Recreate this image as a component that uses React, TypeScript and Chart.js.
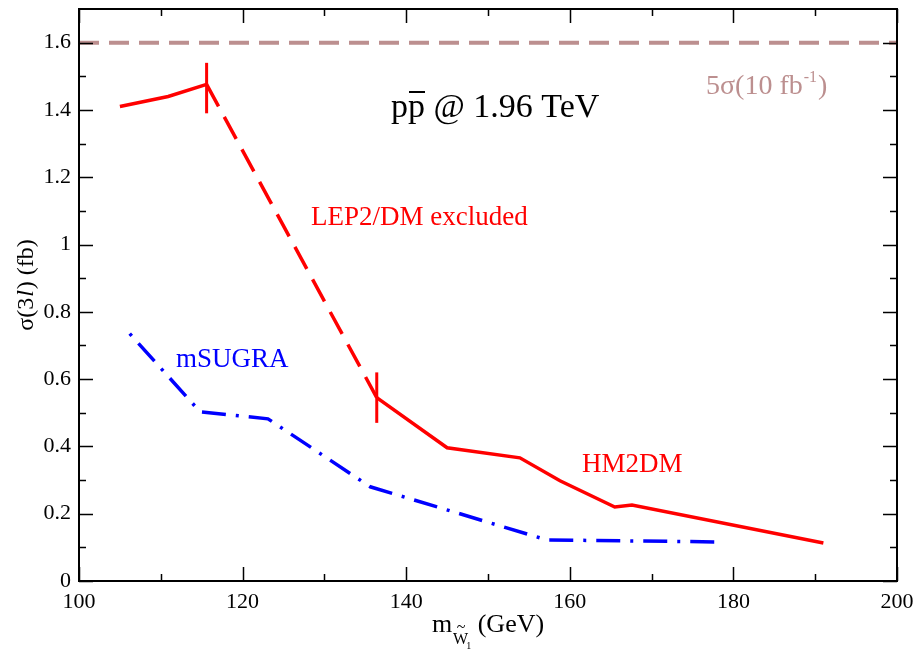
import React, { useEffect, useRef } from 'react';
import { Chart, registerables } from 'chart.js';

Chart.register(...registerables);

// Axis ticks
const xMajorTicks = [100, 120, 140, 160, 180, 200];
const xMinorTicks = [110, 130, 150, 170, 190];
const yMajorTicks = [0, 0.2, 0.4, 0.6, 0.8, 1, 1.2, 1.4, 1.6];
const yMinorTicks = [0.1, 0.3, 0.5, 0.7, 0.9, 1.1, 1.3, 1.5];

// 5 sigma discovery reach with 10 fb^-1
const discoveryMass = [100, 200];
const discoverySigma = [1.6, 1.6];

// HM2DM below the LEP2/DM boundary
const hm2dmLowMass = [105, 110.9, 115.6];
const hm2dmLowSigma = [1.41, 1.44, 1.476];

// LEP2/DM excluded stretch
const excludedMass = [115.6, 136.4];
const excludedSigma = [1.476, 0.545];

// HM2DM allowed region
const hm2dmMass = [136.4, 145, 153.9, 158.8, 165.5, 167.6, 191];
const hm2dmSigma = [0.545, 0.396, 0.366, 0.298, 0.22, 0.226, 0.113];

// Boundary markers of the excluded stretch
const boundaryMass = [115.6, 136.4];
const boundaryLow = [1.39, 0.47];
const boundaryHigh = [1.54, 0.62];

// mSUGRA
const msugraMass = [106.2, 114.8, 123.1, 135.6, 157.2, 178.6];
const msugraSigma = [0.735, 0.503, 0.482, 0.28, 0.122, 0.116];

const SERIF = '"Liberation Serif", "Times New Roman", serif';
const RED = '#ff0000';
const BLUE = '#0000ff';
const ROSY = '#bc8f8f';

const pts = (xs: number[], ys: number[]) => xs.map((x, i) => ({ x, y: ys[i] }));

const lineSet = (data: { x: number; y: number }[], color: string, width: number, dash: number[] = []) => ({
  data,
  borderColor: color,
  backgroundColor: color,
  borderWidth: width,
  borderDash: dash,
  borderCapStyle: 'butt' as const,
  borderJoinStyle: 'miter' as const,
  pointRadius: 0,
  pointHoverRadius: 0,
  tension: 0,
  fill: false,
});

const framePlugin = {
  id: 'frameAndText',
  afterDraw(chart: any) {
    const { ctx, chartArea: a, scales } = chart;
    const xs = scales.x;
    const ys = scales.y;
    ctx.save();

    // frame
    ctx.strokeStyle = '#000';
    ctx.lineWidth = 2;
    ctx.strokeRect(a.left, a.top, a.right - a.left, a.bottom - a.top);

    // inward ticks on all four sides
    ctx.lineWidth = 1.5;
    const major = 14;
    const minor = 7;
    const xTick = (v: number, len: number) => {
      const p = Math.round(xs.getPixelForValue(v)) + 0.5;
      ctx.beginPath();
      ctx.moveTo(p, a.bottom);
      ctx.lineTo(p, a.bottom - len);
      ctx.moveTo(p, a.top);
      ctx.lineTo(p, a.top + len);
      ctx.stroke();
    };
    const yTick = (v: number, len: number) => {
      const p = Math.round(ys.getPixelForValue(v)) + 0.5;
      ctx.beginPath();
      ctx.moveTo(a.left, p);
      ctx.lineTo(a.left + len, p);
      ctx.moveTo(a.right, p);
      ctx.lineTo(a.right - len, p);
      ctx.stroke();
    };
    xMajorTicks.forEach((v) => xTick(v, major));
    xMinorTicks.forEach((v) => xTick(v, minor));
    yMajorTicks.forEach((v) => yTick(v, major));
    yMinorTicks.forEach((v) => yTick(v, minor));

    ctx.textBaseline = 'alphabetic';
    ctx.textAlign = 'left';

    // collision energy
    ctx.fillStyle = '#000';
    ctx.font = `34px ${SERIF}`;
    const px0 = 391;
    const pw = ctx.measureText('p').width;
    ctx.fillText('pp @ 1.96 TeV', px0, 117);
    ctx.fillRect(px0 + pw + 1, 91, pw - 1, 2);

    // curve labels
    ctx.fillStyle = RED;
    ctx.font = `27px ${SERIF}`;
    ctx.fillText('LEP2/DM excluded', 311, 225);
    ctx.fillText('HM2DM', 582, 472);
    ctx.fillStyle = BLUE;
    ctx.fillText('mSUGRA', 176, 367);

    // discovery label
    ctx.fillStyle = ROSY;
    ctx.font = `28px ${SERIF}`;
    let x = 706;
    ctx.fillText('5σ(10 fb', x, 94);
    x += ctx.measureText('5σ(10 fb').width;
    ctx.font = `16px ${SERIF}`;
    ctx.fillText('-1', x + 1, 82);
    x += ctx.measureText('-1').width + 2;
    ctx.font = `28px ${SERIF}`;
    ctx.fillText(')', x, 94);

    // y-axis title
    ctx.fillStyle = '#000';
    ctx.save();
    ctx.translate(33, 285);
    ctx.rotate(-Math.PI / 2);
    const fUp = `24px ${SERIF}`;
    const fIt = `italic 24px ${SERIF}`;
    ctx.font = fUp;
    const w1 = ctx.measureText('σ(3').width;
    const w3 = ctx.measureText(') (fb)').width;
    ctx.font = fIt;
    const w2 = ctx.measureText('l').width + 2;
    let t = -(w1 + w2 + w3) / 2;
    ctx.font = fUp;
    ctx.fillText('σ(3', t, 0);
    t += w1;
    ctx.font = fIt;
    ctx.fillText('l', t + 1, 0);
    t += w2;
    ctx.font = fUp;
    ctx.fillText(') (fb)', t, 0);
    ctx.restore();

    // x-axis title
    ctx.font = `26px ${SERIF}`;
    const wm = ctx.measureText('m').width;
    const wg = ctx.measureText(' (GeV)').width;
    ctx.font = `16px ${SERIF}`;
    const ww = ctx.measureText('W').width;
    const total = wm + ww + 4 + wg;
    let xx = (a.left + a.right) / 2 - total / 2;
    ctx.font = `26px ${SERIF}`;
    ctx.fillText('m', xx, 632);
    xx += wm + 1;
    ctx.font = `16px ${SERIF}`;
    ctx.fillText('W', xx, 644);
    ctx.fillText('~', xx + ww / 2 - 4, 632);
    ctx.font = `10px ${SERIF}`;
    ctx.fillText('1', xx + ww - 2, 649);
    xx += ww + 3;
    ctx.font = `26px ${SERIF}`;
    ctx.fillText(' (GeV)', xx, 632);

    ctx.restore();
  },
};

export default function App() {
  const ref = useRef<HTMLCanvasElement | null>(null);

  useEffect(() => {
    if (!ref.current) return;
    const chart = new Chart(ref.current, {
      type: 'line',
      data: {
        datasets: [
          lineSet(pts(discoveryMass, discoverySigma), ROSY, 4, [20, 10]),
          lineSet(pts(hm2dmLowMass, hm2dmLowSigma), RED, 3.5),
          lineSet(pts(excludedMass, excludedSigma), RED, 3.5, [25, 12]),
          lineSet(pts(hm2dmMass, hm2dmSigma), RED, 3.5),
          lineSet(pts([boundaryMass[0], boundaryMass[0]], [boundaryLow[0], boundaryHigh[0]]), RED, 3),
          lineSet(pts([boundaryMass[1], boundaryMass[1]], [boundaryLow[1], boundaryHigh[1]]), RED, 3),
          lineSet(pts(msugraMass, msugraSigma), BLUE, 3.5, [3, 10, 24, 10]),
        ] as any,
      },
      options: {
        animation: false,
        responsive: false,
        maintainAspectRatio: false,
        parsing: false as any,
        layout: { padding: { top: 9, right: 20, left: 0, bottom: 0 } },
        plugins: {
          legend: { display: false },
          tooltip: { enabled: false },
          title: { display: false },
        },
        scales: {
          x: {
            type: 'linear',
            min: 100,
            max: 200,
            grid: { display: false, drawTicks: false },
            border: { display: false },
            afterFit: (s: any) => {
              s.height = 68;
              s.paddingLeft = 0;
              s.paddingRight = 0;
            },
            afterBuildTicks: (s: any) => {
              s.ticks = xMajorTicks.map((v) => ({ value: v }));
            },
            ticks: {
              padding: 8,
              maxRotation: 0,
              autoSkip: false,
              color: '#000',
              font: { family: SERIF, size: 22 },
              callback: (v: any) => String(v),
            },
          },
          y: {
            type: 'linear',
            min: 0,
            max: 1.7,
            grid: { display: false, drawTicks: false },
            border: { display: false },
            afterFit: (s: any) => {
              s.width = 79;
              s.paddingTop = 0;
              s.paddingBottom = 0;
            },
            afterBuildTicks: (s: any) => {
              s.ticks = yMajorTicks.map((v) => ({ value: v }));
            },
            ticks: {
              padding: 8,
              autoSkip: false,
              color: '#000',
              font: { family: SERIF, size: 22 },
              callback: (v: any) => String(Math.round(Number(v) * 10) / 10),
            },
          },
        },
      },
      plugins: [framePlugin],
    });
    return () => chart.destroy();
  }, []);

  return (
    <div style={{ position: 'fixed', left: 0, top: 0, width: 917, height: 649, background: '#fff' }}>
      <canvas ref={ref} width={917} height={649} style={{ display: 'block', width: 917, height: 649 }} />
    </div>
  );
}
